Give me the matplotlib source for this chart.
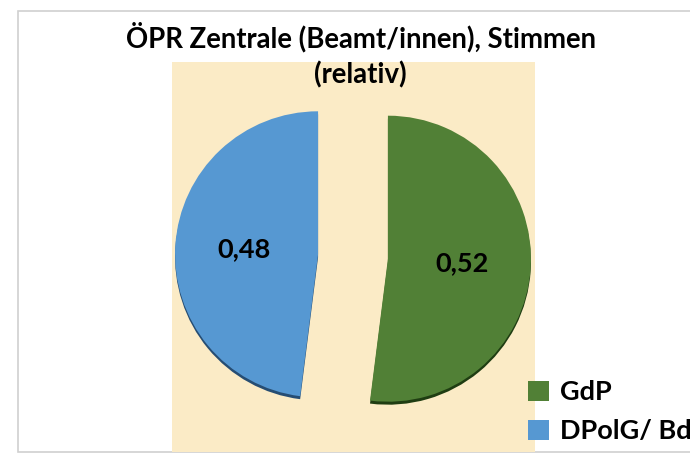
import matplotlib.pyplot as plt
from matplotlib.patches import Rectangle

#Chart data
parties = ['GdP', 'DPolG/ BdK']
shares = [0.52, 0.48]
colors = ['#518036', '#5698d2']
rim_colors = ['#1f3d12', '#264d73']

title_line1 = 'ÖPR Zentrale (Beamt/innen), Stimmen'
title_line2 = '(relativ)'

plt.rcParams['font.family'] = ['Lato', 'DejaVu Sans']

#Figure in pixel units so positions are easy to match
fig = plt.figure(figsize=(6.9, 4.54), dpi=100)
ax = fig.add_axes([0, 0, 1, 1])

#Outer chart border and beige plot area
ax.add_patch(Rectangle((18, 2), 700, 441, facecolor='white', edgecolor='#d0d0d0', lw=1.2, zorder=0))
ax.add_patch(Rectangle((172, 2), 363, 390, facecolor='#fbebc6', edgecolor='none', zorder=1))

#explode is in data units (pixels here)
explode = [35, 35]

#Dark rim underneath to mimic the 3D look
ax.pie(shares, colors=rim_colors, startangle=90, counterclock=False,
       explode=explode, center=(353, 194.5), radius=143,
       wedgeprops=dict(linewidth=0, zorder=2))

#Main pie
wedges, texts, autotexts = ax.pie(
    shares, colors=colors, startangle=90, counterclock=False,
    explode=explode, center=(353, 197.5), radius=143,
    autopct=lambda p: f'{p / 100:.2f}'.replace('.', ','), pctdistance=0.52,
    wedgeprops=dict(linewidth=0, zorder=3),
    textprops=dict(fontsize=19.5, fontweight='bold', color='black', zorder=4))

ax.set_xlim(0, 690)
ax.set_ylim(0, 454)
ax.set_aspect('auto')
ax.axis('off')

#Title, two lines
ax.text(361, 454 - 47, title_line1, ha='center', va='baseline', fontsize=19.8, fontweight='bold')
ax.text(360, 454 - 83, title_line2, ha='center', va='baseline', fontsize=19.8, fontweight='bold')

#Legend, cut off at the right edge like the original
leg = ax.legend(wedges, parties, loc='upper left', bbox_to_anchor=(504 / 690, 1 - 356 / 454),
                frameon=False, fontsize=19.5, handlelength=0.75, handleheight=0.75,
                handletextpad=0.4, labelspacing=0.55)
for t in leg.get_texts():
    t.set_fontweight('bold')

fig.savefig('out.png', dpi=100)
